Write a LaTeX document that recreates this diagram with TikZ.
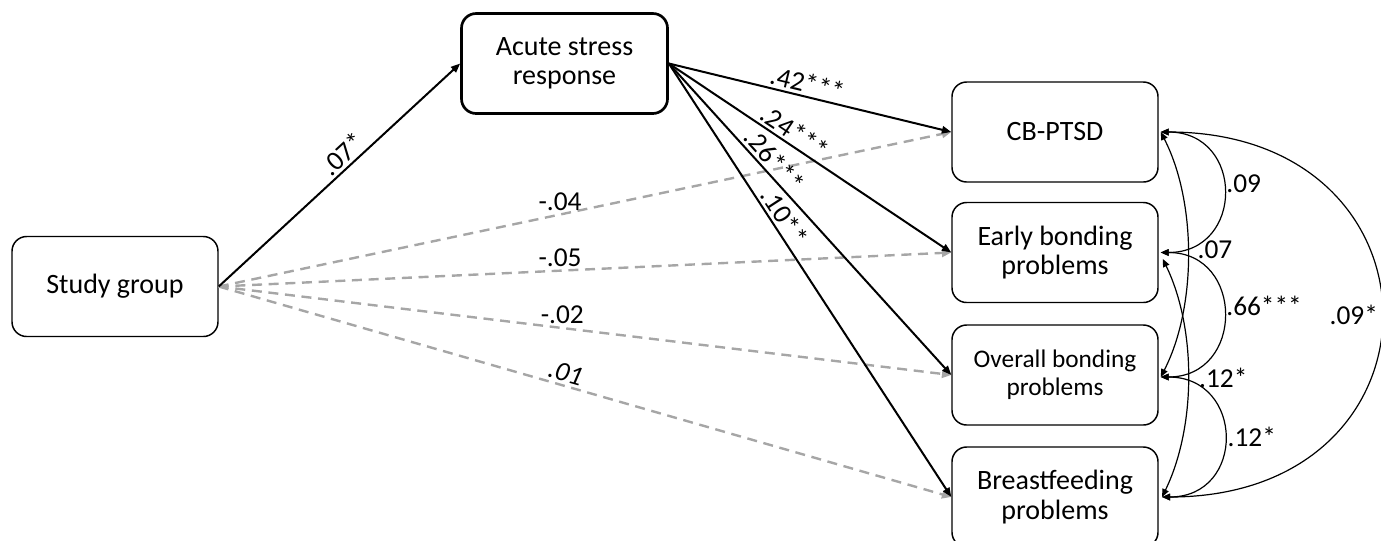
\documentclass[tikz,border=0pt]{standalone}
\usepackage{fontspec}
\setmainfont{Carlito}
\usetikzlibrary{arrows.meta}
\definecolor{dgray}{HTML}{A6A6A6}
\begin{document}
\begin{tikzpicture}[x=0.75pt,y=-0.75pt,
 box/.style={draw, rounded corners=11pt, line width=1.1pt, minimum width=154.5pt, minimum height=75pt, align=center, inner sep=0pt, font=\fontsize{21}{22}\selectfont},
 solidarr/.style={line width=1.5pt, -{Triangle[length=7pt,width=5.5pt]}},
 dasharr/.style={line width=1.8pt, draw=dgray, dash pattern=on 7.5pt off 5pt, -{Triangle[length=7pt,width=6pt]}},
 cov/.style={line width=0.9pt, {Triangle[length=6pt,width=5pt]}-{Triangle[length=6pt,width=5pt]}},
 lab/.style={font=\fontsize{20.5}{22}\selectfont, text=black, inner sep=2pt}
]
\useasboundingbox (0,0) rectangle (1381,540);

\node[box] (study) at (115,286.5) {Study group};
\node[box, line width=2pt] (acute) at (564.5,63.5) {Acute stress\\response};
\node[box] (cb) at (1055,132) {CB-PTSD};
\node[box] (early) at (1055,252.5) {Early bonding\\problems};
\node[box, font=\fontsize{19}{21}\selectfont] (overall) at (1055,375) {Overall bonding\\problems};
\node[box] (breast) at (1055,497) {Breastfeeding\\problems};

% dashed direct paths
\draw[dasharr] (study.east) -- node[lab,pos=0.466,above]{-.04} (cb.west);
\draw[dasharr] (study.east) -- node[lab,pos=0.466,above]{-.05} (early.west);
\draw[dasharr] (study.east) -- node[lab,pos=0.469,above]{-.02} (overall.west);
\draw[dasharr] (study.east) -- node[lab,pos=0.469,above,sloped]{\itshape .01} (breast.west);

% solid paths
\draw[solidarr] (study.east) -- node[lab,pos=0.55,above,sloped]{.07*} (acute.west);
\draw[solidarr] (acute.east) -- node[lab,pos=0.48,above,sloped]{.42***} (cb.west);
\draw[solidarr] (acute.east) -- node[lab,pos=0.42,above,sloped]{.24***} (early.west);
\draw[solidarr] (acute.east) -- node[lab,pos=0.34,above,sloped]{.26***} (overall.west);
\draw[solidarr] (acute.east) -- node[lab,pos=0.37,above,sloped]{.10**} (breast.west);

% covariances
\draw[cov] ([xshift=1.5pt]cb.east) .. controls +(84,0) and +(84,0) .. ([xshift=1.5pt]early.east) node[lab,pos=0.45,right]{.09};
\draw[cov] ([xshift=1.5pt]early.east) .. controls +(84,0) and +(84,0) .. ([xshift=1.5pt,yshift=-1.5pt]overall.east) node[lab,pos=0.45,right]{.66***};
\draw[cov] ([xshift=1.5pt,yshift=-1.5pt]overall.east) .. controls +(84,0) and +(84,0) .. ([xshift=2.5pt]breast.east) node[lab,pos=0.5,right]{.12*};
\draw[cov] ([xshift=1.5pt]cb.east) .. controls +(36,70) and +(36,-70) .. ([xshift=1.5pt,yshift=-1.5pt]overall.east) node[lab,pos=0.48,right,xshift=5pt]{.07};
\draw[cov] ([xshift=3pt,yshift=-4.8pt]early.east) .. controls +(34,70) and +(34,-70) .. ([xshift=2.5pt]breast.east) node[lab,pos=0.5,right,xshift=6pt]{.12*};
\draw[cov] ([xshift=1.5pt]cb.east) .. controls +(293,0) and +(293,0) .. ([xshift=2.5pt]breast.east) node[lab,pos=0.5,left]{.09*};
\end{tikzpicture}
\end{document}
